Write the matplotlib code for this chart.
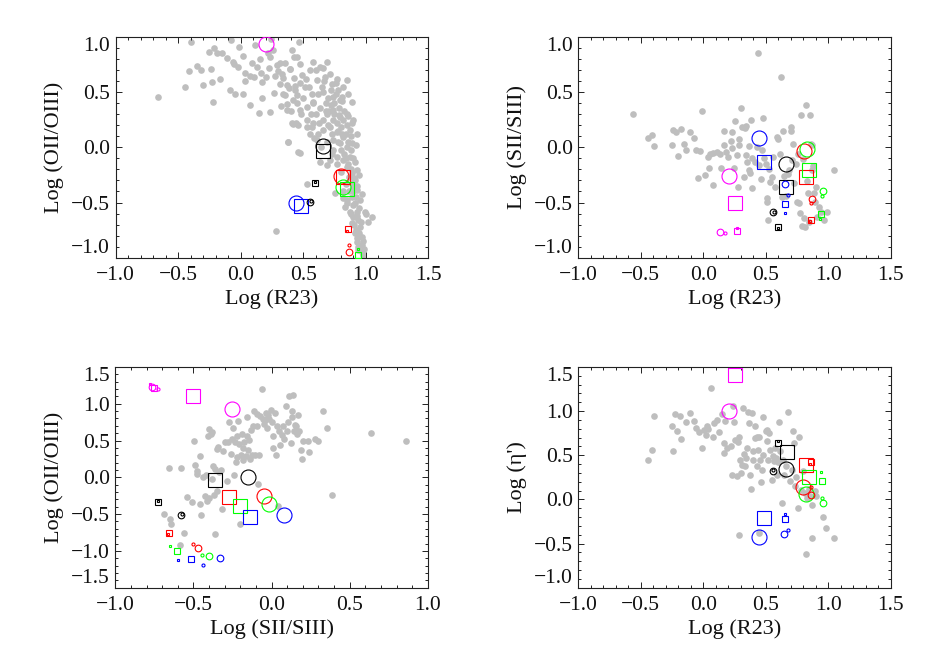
import numpy as np
import matplotlib
matplotlib.use("Agg")
import matplotlib.pyplot as plt
from matplotlib.ticker import MultipleLocator, FixedLocator

plt.rcParams['font.family'] = ['Liberation Serif', 'DejaVu Serif']
plt.rcParams['axes.unicode_minus'] = True

# ---------------- grey observed points ----------------
p1_x = [-0.664, -0.443, -0.398, -0.416, -0.350, -0.320, -0.304, -0.256, -0.240, -0.230, -0.224, -0.216,
        -0.187, -0.166, -0.150, -0.112, -0.088, -0.075, -0.064, -0.056, -0.043, -0.024, -0.011, 0.015,
        0.018, 0.037, 0.032, 0.072, 0.077, 0.090, 0.109, 0.117, 0.130, 0.144, 0.152, 0.163, 0.171, 0.173,
        0.202, 0.216, 0.224, 0.234, 0.237, 0.245, 0.256, 0.266, 0.277, 0.288, 0.298, 0.312, 0.317, 0.325,
        0.336, 0.357, 0.357, 0.373, 0.384, 0.397, 0.405, 0.413, 0.418, 0.424, 0.429, 0.437, 0.445, 0.450,
        0.453, 0.458, 0.378, 0.469, 0.477, 0.282,
        0.327, 0.394, 0.474, 0.487, 0.554, 0.581, 0.607, 0.634, 0.674, 0.687, 0.714, 0.727, 0.767, 0.781,
        0.821, 0.847, 0.861, 0.367, 0.434, 0.514, 0.567, 0.661, 0.741, 0.794, 0.887, 0.341, 0.367, 0.421,
        0.474, 0.527, 0.581, 0.634, 0.687, 0.741, 0.794, 0.847, 0.901, 0.927, 0.407, 0.461, 0.527, 0.581,
        0.661, 0.714, 0.767, 0.821, 0.874, 0.887, 0.381, 0.474, 0.554, 0.607, 0.741, 0.794, 0.847, 0.727,
        0.767, 0.821, 0.874, 0.914, 0.847, 0.927, 0.714, 0.687, 0.634, 0.527, 0.754, 0.887, 0.914, 0.927,
        0.887, 0.914, 0.954, 0.847, 0.834, 0.874, 0.927, 0.994, 1.047, 0.901, 0.941, 0.887, 0.954, 0.914,
        0.967, 0.927, 0.967, 0.941, 0.981, 0.901, 0.821,
        0.70, 0.72, 0.75, 0.77, 0.80, 0.82, 0.84, 0.86, 0.88, 0.90, 0.78, 0.80, 0.83, 0.86, 0.88, 0.91,
        0.93, 0.89, 0.87, 0.92, 0.95, 0.90, 0.93, 0.96, 0.92, 0.95, 0.98, 0.94, 0.97, 0.99, 0.65, 0.62,
        0.68, 0.60, 0.66, 0.70, 0.73, 0.69, 0.64, 0.58, 0.55, 0.52, 0.60, 0.66, 0.50, 0.45, 0.48, 0.53,
        0.57, 0.62, 0.76, 0.79, 0.83, 0.85, 0.88, 0.74, 0.77, 0.80, 0.84, 0.82, 0.85, 0.88, 0.91, 0.93,
        0.71, 0.75, 0.79, 0.81, 0.86, 0.89, 0.92, 0.95, 0.97, 1.00, 1.02, 0.84, 0.87, 0.90, 0.81, 0.78,
        0.74, 0.68, 0.63, 0.59, 0.56, 0.67, 0.72, 0.76, 0.81]
p1_y = [0.454, 0.545, 0.952, 0.687, 0.738, 0.696, 0.566, 0.865, 0.711, 0.590, 0.409, 0.904,
        0.853, 0.620, 0.853, 0.813, 0.521, 0.976, 0.777, 0.756, 0.484, 0.732, 0.907, 0.484,
        0.828, 0.605, 0.672, 0.379, 0.647, 0.768, 0.635, 0.928, 0.726, 0.310, 0.798, 0.672, 0.596, 0.451,
        0.635, 0.853, 0.717, 0.316, 0.816, 0.979, 0.883, 0.490, 0.647, 0.747, 0.687, 0.575, 0.762, 0.376,
        0.629, 0.762, 0.475, 0.340, 0.536, 0.708, 0.325, 0.883, 0.213, 0.626, 0.822, 0.557, 0.219, 0.475,
        0.822, -0.043, 0.044, 0.958, 0.581, -0.758,
        0.668, 0.714, 0.759, 0.653, 0.699, 0.774, 0.608, 0.729, 0.638, 0.774, 0.668, 0.578, 0.623, 0.518,
        0.548, 0.608, 0.487, 0.563, 0.518, 0.548, 0.487, 0.502, 0.457, 0.427, 0.412, 0.487, 0.397, 0.427,
        0.337, 0.367, 0.412, 0.352, 0.306, 0.337, 0.276, 0.306, 0.246, 0.125, 0.216, 0.201, 0.186, 0.216,
        0.156, 0.186, 0.140, 0.095, 0.156, 0.035, 0.050, -0.050, 0.125, 0.065, 0.065, 0.035, 0.005, -0.056,
        -0.086, -0.116, -0.086, -0.131, -0.176, -0.206, -0.116, -0.161, -0.131, -0.333, -0.418, -0.237, -0.297, -0.387,
        -0.448, -0.508, -0.478, -0.478, -0.538, -0.584, -0.584, -0.584, -0.629, -0.629, -0.659, -0.689, -0.719, -0.780,
        -0.810, -0.855, -0.885, -0.930, -0.976, -0.372, -0.463,
        0.45, 0.38, 0.30, 0.22, 0.18, 0.25, 0.12, 0.05, -0.02, -0.10, 0.05, -0.02, -0.06, -0.15, -0.20, -0.28,
        -0.35, -0.32, -0.40, -0.45, -0.55, -0.52, -0.62, -0.68, -0.75, -0.78, -0.85, -0.90, -0.95, -0.92, 0.55, 0.48,
        0.40, 0.30, 0.25, 0.20, 0.12, 0.05, 0.00, 0.40, 0.55, 0.62, 0.70, 0.72, 0.45, 0.40, 0.30, 0.25,
        0.18, 0.12, 0.48, 0.36, 0.33, 0.20, 0.10, -0.02, -0.15, -0.22, -0.33, -0.40, -0.50, -0.60, -0.70, -0.82,
        0.33, 0.40, 0.29, 0.42, 0.28, 0.22, 0.02, -0.25, -0.42, -0.60, -0.68, -0.10, -0.27, -0.40, 0.12, 0.15,
        0.25, 0.33, 0.22, 0.08, 0.30, 0.60, 0.52, 0.58, 0.46]

p2_x = [-0.565, -0.440, -0.413, -0.395, -0.254, -0.240, -0.219, -0.200, -0.176, -0.155, -0.139, -0.110,
        -0.075, -0.062, -0.040, -0.025, -0.009, 0.015, 0.034, 0.045, 0.053, 0.074, 0.079, 0.111, 0.133,
        0.141, 0.165, 0.168, 0.178, 0.199, 0.218, 0.226, 0.231, 0.245, 0.255, 0.266, 0.280, 0.285, 0.287,
        0.298, 0.306, 0.325, 0.330, 0.341, 0.343, 0.349, 0.362, 0.367, 0.373, 0.383, 0.386, 0.391, 0.413,
        0.426, 0.439, 0.447, 0.458, 0.466, 0.474, 0.484, 0.500, 0.508, 0.511, 0.516, 0.527, 0.532, 0.546,
        0.559, 0.572, 0.586, 0.599, 0.612, 0.623, 0.628, 0.634, 0.644, 0.658, 0.679, 0.687, 0.698, 0.700,
        0.708, 0.719, 0.727, 0.740, 0.751, 0.759, 0.767, 0.772, 0.786, 0.794, 0.804, 0.812, 0.820, 0.831,
        0.839, 0.847, 0.852, 0.860, 0.866, 0.873, 0.879, 0.887, 0.892, 0.900, 0.911, 0.927, 0.945, 0.964,
        0.991, 1.044, 0.780]
p2_y = [0.305, 0.088, 0.116, 0.010, 0.019, 0.161, 0.140, -0.080, 0.170, 0.028, -0.026, 0.143,
        0.088, -0.020, -0.279, -0.032, 0.329, -0.255, -0.092, -0.186, -0.056, -0.337, -0.050, -0.041, -0.062,
        -0.186, 0.149, 0.019, -0.041, -0.086, 0.058, -0.002, 0.140, -0.186, 0.236, -0.071, -0.358, 0.025, 0.079,
        0.357, 0.185, -0.267, 0.179, 0.194, -0.071, -0.132, 0.010, -0.201, -0.237, 0.245, -0.370, -0.101, -0.132,
        0.004, 0.854, -0.162, -0.288, -0.026, 0.269, -0.101, -0.147, -0.463, -0.493, -0.659, -0.192, -0.312, -0.267,
        -0.086, -0.358, 0.094, 0.079, -0.056, 0.637, -0.448, 0.146, -0.261, -0.439, -0.243, -0.201, 0.185, 0.146,
        -0.117, 0.034, -0.327, -0.147, -0.493, -0.062, -0.508, -0.593, -0.713, -0.110, -0.644, -0.719, 0.387, -0.306,
        -0.418, -0.674, 0.296, 0.034, -0.207, 0.019, -0.171, -0.412, -0.493, -0.358, -0.629, -0.544, -0.584, -0.659,
        -0.584, -0.201, 0.293]

p3_x = [-0.657, -0.581, -0.691, -0.653, -0.642, -0.589, -0.563, -0.542, -0.508, -0.495, -0.489, -0.478,
        -0.474, -0.461, -0.457, -0.451, -0.440, -0.425, -0.419, -0.415, -0.404, -0.402, -0.400, -0.389,
        -0.383, -0.378, -0.372, -0.368, -0.364, -0.361, -0.351, -0.346, -0.340, -0.334, -0.323, -0.319,
        -0.308, -0.295, -0.287, -0.276, -0.272, -0.261, -0.255, -0.248, -0.240, -0.233, -0.227, -0.223,
        -0.219, -0.212, -0.206, -0.200, -0.195, -0.191, -0.185, -0.180, -0.174, -0.163, -0.159, -0.155,
        -0.148, -0.142, -0.138, -0.131, -0.127, -0.121, -0.112, -0.106, -0.095, -0.095, -0.085, -0.078,
        -0.074, -0.063, -0.057, -0.048, -0.040, -0.036, -0.031, -0.025, -0.019, -0.006, 0.001, 0.007,
        0.012, 0.022, 0.028, 0.037, 0.043, 0.049, 0.054, 0.064, 0.071, 0.079, 0.090, 0.096, 0.107, 0.113,
        0.122, 0.128, 0.132, 0.139, 0.143, 0.149, 0.156, 0.160, 0.171, 0.177, 0.186, 0.192, 0.199, 0.241,
        0.235, 0.277, 0.299, 0.331, 0.356, 0.384, 0.639, 0.858]
p3_y = [0.125, 0.125, -0.496, -0.568, -0.632, -0.918, -0.759, -0.274, -0.337, 0.493, 0.162, 0.089,
        0.044, 0.284, -0.360, -0.509, 0.003, -0.251, 0.035, -0.328, 0.556, 0.656, -0.283, 0.593,
        -0.020, 0.611, 0.148, -0.246, -0.768, 0.112, 0.388, -0.183, 0.407, 0.066, 0.103, -0.428,
        0.352, 0.484, -0.056, 0.479, 0.751, 0.316, 0.520, 0.670, 0.035, 0.484, 0.203, 0.565,
        0.275, 0.760, 0.452, -0.636, 0.307, 0.593, 0.239, 0.397, 0.474, 0.284, 0.819, 0.556,
        0.366, 0.502, 0.252, 0.638, 0.307, 0.702, 0.896, 0.307, 0.860, 0.692, -0.088, 0.307,
        0.828, 1.200, 0.792, 0.724, 0.774, 0.874, 0.670, 0.851, 0.792, 0.919, 0.747, 0.556,
        0.397, 0.874, 0.307, 0.692, -0.396, 0.624, 0.443, 0.579, 0.692, 0.520, 0.964, 0.624, 0.747, 1.110,
        0.466, 0.819, 0.896, 1.123, 0.624, 0.706, 0.692, 0.593, 0.851, 0.633, 0.366, 0.248, 0.488, 0.343,
        0.497, 0.520, 0.497, 0.905, 0.670, -0.237, 0.602, 0.493]

p4_x = [-0.440, -0.414, -0.395, -0.254, -0.240, -0.227, -0.214, -0.187, -0.176, -0.142, -0.110, -0.075,
        -0.059, -0.035, -0.014, 0.007, 0.021, 0.026, 0.039, 0.058, 0.074, 0.087, 0.106, 0.127, 0.146,
        0.165, 0.165, 0.173, 0.191, 0.221, 0.229, 0.239, 0.245, 0.253, 0.271, 0.279, 0.285, 0.293, 0.300,
        0.309, 0.319, 0.325, 0.333, 0.341, 0.346, 0.359, 0.367, 0.373, 0.381, 0.386, 0.394, 0.399, 0.410,
        0.413, 0.426, 0.431, 0.439, 0.447, 0.453, 0.458, 0.466, 0.474, 0.479, 0.500, 0.506, 0.511, 0.519,
        0.527, 0.532, 0.546, 0.554, 0.564, 0.572, 0.580, 0.591, 0.599, 0.607, 0.612, 0.626, 0.634, 0.644,
        0.660, 0.679, 0.692, 0.706, 0.719, 0.724, 0.732, 0.745, 0.759, 0.767, 0.778, 0.794, 0.812, 0.820,
        0.831, 0.847, 0.857, 0.868, 0.873, 0.892, 0.900, 0.958, 0.985, 1.044, 0.282, 0.447]
p4_y = [0.449, 0.562, 0.940, 0.834, 0.551, 0.971, 0.770, 0.948, 0.683, 0.876, 0.978, 0.884,
        0.808, 0.759, 0.581, 0.782, 0.732, 0.827, 0.797, 1.262, 0.706, 0.865, 0.903, 0.759, 0.967,
        0.638, 0.524, 0.884, 0.581, 0.600, 0.279, 1.054, 0.872, 0.668, 0.260, 0.645, 0.706, 0.449, 0.298,
        0.392, 1.035, 0.517, 0.381, 0.468, 0.581, 0.986, 0.865, 0.279, 0.116, 0.978, 0.543, 0.449, 0.834,
        0.695, 0.706, 0.373, 0.555, 0.706, 0.449, 0.192, 0.336, 0.506, 0.933, 0.770, 0.657, 0.789, 0.449,
        0.751, 0.562, 0.215, 0.487, 0.430, 0.581, 0.468, 0.279, 0.419, 0.880, 0.543, -0.042, 0.449, 0.279,
        0.381, 0.989, 0.203, 0.336, 0.770, 0.638, 0.154, 0.253, -0.099, 0.706, 0.109, 0.317, 0.071, -0.617,
        0.014, 0.116, 0.033, -0.061, -0.439, 0.090, 0.033, -0.194, -0.326, -0.439, -0.402, -0.375]

# ---------------- model points: order magenta, black, red, green, blue ----------------
model_colors = ['#ff00ff', '#000000', '#ff0000', '#00ff00', '#0000ff']
nan = np.nan

p1_bigc_x = [0.202, 0.661, 0.802, 0.821, 0.442]; p1_bigc_y = [0.934, 0.008, -0.260, -0.357, -0.502]
p1_bigs_x = [nan, 0.661, 0.821, 0.848, 0.482];   p1_bigs_y = [nan, -0.030, -0.265, -0.381, -0.532]
p1_smc_x = [nan, 0.554, 0.866, nan, nan];        p1_smc_y = [nan, -0.499, -0.946, nan, nan]
p1_sms_x = [nan, 0.594, 0.856, 0.941, nan];      p1_sms_y = [nan, -0.324, -0.743, -0.975, nan]
p1_tic_x = [nan, 0.560, 0.864, nan, nan];        p1_tic_y = [nan, -0.490, -0.888, nan, nan]
p1_tis_x = [nan, 0.596, 0.850, 0.935, nan];      p1_tis_y = [nan, -0.310, -0.755, -0.921, nan]

p2_bigc_x = [0.207, 0.663, 0.802, 0.826, 0.447]; p2_bigc_y = [-0.258, -0.147, -0.035, -0.017, 0.080]
p2_bigs_x = [0.255, 0.660, 0.820, 0.846, 0.487]; p2_bigs_y = [-0.503, -0.358, -0.273, -0.201, -0.137]
p2_smc_x = [0.135, 0.556, 0.866, 0.958, 0.650];  p2_smc_y = [-0.765, -0.584, -0.466, -0.400, -0.331]
p2_sms_x = [0.266, 0.596, 0.860, 0.945, 0.650];  p2_sms_y = [-0.756, -0.725, -0.659, -0.605, -0.517]
p2_tic_x = [0.175, 0.562, 0.863, 0.952, 0.679];  p2_tic_y = [-0.780, -0.590, -0.503, -0.445, -0.436]
p2_tis_x = [0.266, 0.598, 0.853, 0.935, 0.652];  p2_tis_y = [-0.730, -0.728, -0.668, -0.650, -0.599]

p3_bigc_x = [-0.255, -0.149, -0.047, -0.017, 0.081]; p3_bigc_y = [0.929, 0.003, -0.260, -0.360, -0.514]
p3_bigs_x = [-0.504, -0.360, -0.270, -0.202, -0.136]; p3_bigs_y = [1.109, -0.033, -0.269, -0.396, -0.541]
p3_smc_x = [-0.766, -0.580, -0.472, -0.402, -0.328]; p3_smc_y = [1.228, -0.510, -0.954, -1.063, -1.090]
p3_sms_x = [-0.751, -0.725, -0.655, -0.604, -0.515]; p3_sms_y = [1.214, -0.333, -0.750, -0.995, -1.104]
p3_tic_x = [-0.727, -0.575, -0.500, -0.447, -0.438]; p3_tic_y = [1.200, -0.500, -0.900, -1.050, -1.194]
p3_tis_x = [-0.777, -0.725, -0.665, -0.653, -0.596]; p3_tis_y = [1.273, -0.320, -0.770, -0.936, -1.126]

p4_bigc_x = [0.207, 0.663, 0.799, 0.818, 0.444]; p4_bigc_y = [0.997, 0.343, 0.146, 0.056, -0.427]
p4_bigs_x = [0.255, 0.666, 0.820, 0.847, 0.487]; p4_bigs_y = [1.405, 0.532, 0.392, 0.253, -0.205]
p4_smc_x = [nan, 0.559, 0.863, 0.958, 0.647];    p4_smc_y = [nan, 0.321, 0.052, -0.035, -0.390]
p4_sms_x = [nan, 0.594, 0.858, 0.948, 0.652];    p4_sms_y = [nan, 0.638, 0.418, 0.214, -0.220]
p4_tic_x = [nan, 0.560, 0.860, 0.952, 0.679];    p4_tic_y = [nan, 0.330, 0.135, 0.011, -0.352]
p4_tis_x = [nan, 0.600, 0.850, 0.944, 0.652];    p4_tis_y = [nan, 0.660, 0.400, 0.309, -0.160]

xlabels = ['Log (R23)', 'Log (R23)', 'Log (SII/SIII)', 'Log (R23)']
ylabels = ['Log (OII/OIII)', 'Log (SII/SIII)', 'Log (OII/OIII)', "Log (\u03b7')"]
xlims = [(-1.0, 1.5), (-1.0, 1.5), (-1.0, 1.0), (-1.0, 1.5)]
ylims = [(-1.0, 1.0), (-1.0, 1.0), (-1.5, 1.5), (-1.0, 1.5)]

panels = [
    (p1_x, p1_y, [(p1_bigc_x, p1_bigc_y), (p1_bigs_x, p1_bigs_y), (p1_smc_x, p1_smc_y),
                  (p1_sms_x, p1_sms_y), (p1_tic_x, p1_tic_y), (p1_tis_x, p1_tis_y)]),
    (p2_x, p2_y, [(p2_bigc_x, p2_bigc_y), (p2_bigs_x, p2_bigs_y), (p2_smc_x, p2_smc_y),
                  (p2_sms_x, p2_sms_y), (p2_tic_x, p2_tic_y), (p2_tis_x, p2_tis_y)]),
    (p3_x, p3_y, [(p3_bigc_x, p3_bigc_y), (p3_bigs_x, p3_bigs_y), (p3_smc_x, p3_smc_y),
                  (p3_sms_x, p3_sms_y), (p3_tic_x, p3_tic_y), (p3_tis_x, p3_tis_y)]),
    (p4_x, p4_y, [(p4_bigc_x, p4_bigc_y), (p4_bigs_x, p4_bigs_y), (p4_smc_x, p4_smc_y),
                  (p4_sms_x, p4_sms_y), (p4_tic_x, p4_tic_y), (p4_tis_x, p4_tis_y)]),
]
# marker style per model group: (marker, size)
group_styles = [('o', 10.8), ('s', 10.0), ('o', 4.8), ('s', 4.6), ('o', 2.2), ('s', 2.0)]

fig = plt.figure(figsize=(9.26, 6.62), dpi=100)
W, H = 0.3375, 0.3335
positions = [(0.1249, 0.6107), (0.6245, 0.6107), (0.1245, 0.1122), (0.6245, 0.1122)]

for i, (gx, gy, groups) in enumerate(panels):
    ax = fig.add_axes([positions[i][0], positions[i][1], W, H])
    ax.plot(gx, gy, 'o', ls='none', ms=4.8, color='#bebebe', mec='none', zorder=1)
    for (mx, my), (mk, ms) in zip(groups, group_styles):
        for xv, yv, c in zip(mx, my, model_colors):
            ax.plot([xv], [yv], marker=mk, ms=ms, mfc='none', mec=c, mew=0.8, ls='none', zorder=3)
    ax.set_xlim(*xlims[i])
    ax.set_ylim(*ylims[i])
    ax.xaxis.set_major_locator(MultipleLocator(0.5))
    ax.yaxis.set_major_locator(MultipleLocator(0.5))
    ax.xaxis.set_minor_locator(MultipleLocator(0.1))
    ax.yaxis.set_minor_locator(MultipleLocator(0.1))
    ax.tick_params(which='both', direction='in', top=True, right=True, width=0.7, colors='#222222',
                   labelsize=15.5, labelcolor='#111111')
    ax.tick_params(which='major', length=4.5, pad=6)
    ax.tick_params(which='minor', length=2.4)
    ax.tick_params(axis='y', pad=4)
    for sp in ax.spines.values():
        sp.set_linewidth(0.8)
        sp.set_color('#222222')
    ax.set_xlabel(xlabels[i], fontsize=16, labelpad=3, color='#111111')
    ax.set_ylabel(ylabels[i], fontsize=16, labelpad=5, color='#111111')
    # end y tick labels sit inside the axis range
    yt = ax.get_yticks()
    yt = [t for t in yt if ylims[i][0] - 1e-9 <= t <= ylims[i][1] + 1e-9]
    ax.yaxis.set_major_locator(FixedLocator(yt))
    ticks = ax.yaxis.get_major_ticks()
    ticks[0].label1.set_va('bottom')
    ticks[-1].label1.set_va('top')

fig.savefig('out.png', dpi=100)
